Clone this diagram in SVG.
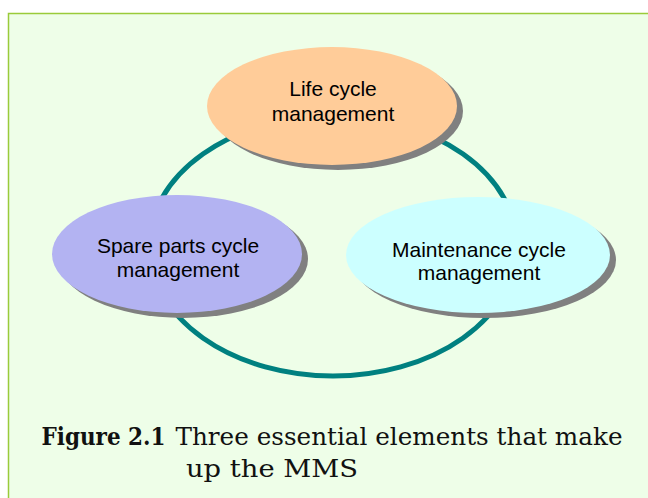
<svg xmlns="http://www.w3.org/2000/svg" width="648" height="498" viewBox="0 0 648 498">
  <style>
    .shadow { fill: #808080; }
    .lbl { font-family: "Liberation Sans", Arial, sans-serif; font-size: 21px; fill: #000; text-anchor: middle; }
    .cap { font-family: "DejaVu Serif", "Liberation Serif", serif; font-size: 24.5px; fill: #111; }
  </style>
  <rect x="0" y="0" width="648" height="498" fill="#ffffff"/>
  <rect x="8.5" y="13.5" width="700" height="600" fill="#EEFEE8" stroke="#9ACB3A" stroke-width="1.5"/>
  <g id="connectors">
    <ellipse cx="333" cy="246" rx="184" ry="130" fill="none" stroke="#008080" stroke-width="5"/>
  </g>
  <g id="node-life">
    <ellipse class="shadow" cx="338" cy="111" rx="125" ry="59"/>
    <ellipse cx="332" cy="106" rx="125" ry="59" fill="#FFCC99"/>
    <text class="lbl" x="333" y="96">Life cycle</text>
    <text class="lbl" x="333" y="121">management</text>
  </g>
  <g id="node-spare">
    <ellipse class="shadow" cx="183" cy="259" rx="125" ry="59"/>
    <ellipse cx="177" cy="254" rx="125" ry="59" fill="#B3B3F2"/>
    <text class="lbl" x="178" y="253">Spare parts cycle</text>
    <text class="lbl" x="178" y="277">management</text>
  </g>
  <g id="node-maint">
    <ellipse class="shadow" cx="484" cy="260" rx="132" ry="58"/>
    <ellipse cx="478" cy="255" rx="132" ry="58" fill="#CCFFFF"/>
    <text class="lbl" x="479" y="257">Maintenance cycle</text>
    <text class="lbl" x="479" y="280">management</text>
  </g>
  <g id="caption">
    <text class="cap" x="41.5" y="445" font-weight="bold" textLength="124" lengthAdjust="spacingAndGlyphs">Figure 2.1</text>
    <text class="cap" x="175.5" y="445" textLength="447" lengthAdjust="spacingAndGlyphs">Three essential elements that make</text>
    <text class="cap" x="186" y="477" textLength="172" lengthAdjust="spacingAndGlyphs">up the MMS</text>
  </g>
</svg>
